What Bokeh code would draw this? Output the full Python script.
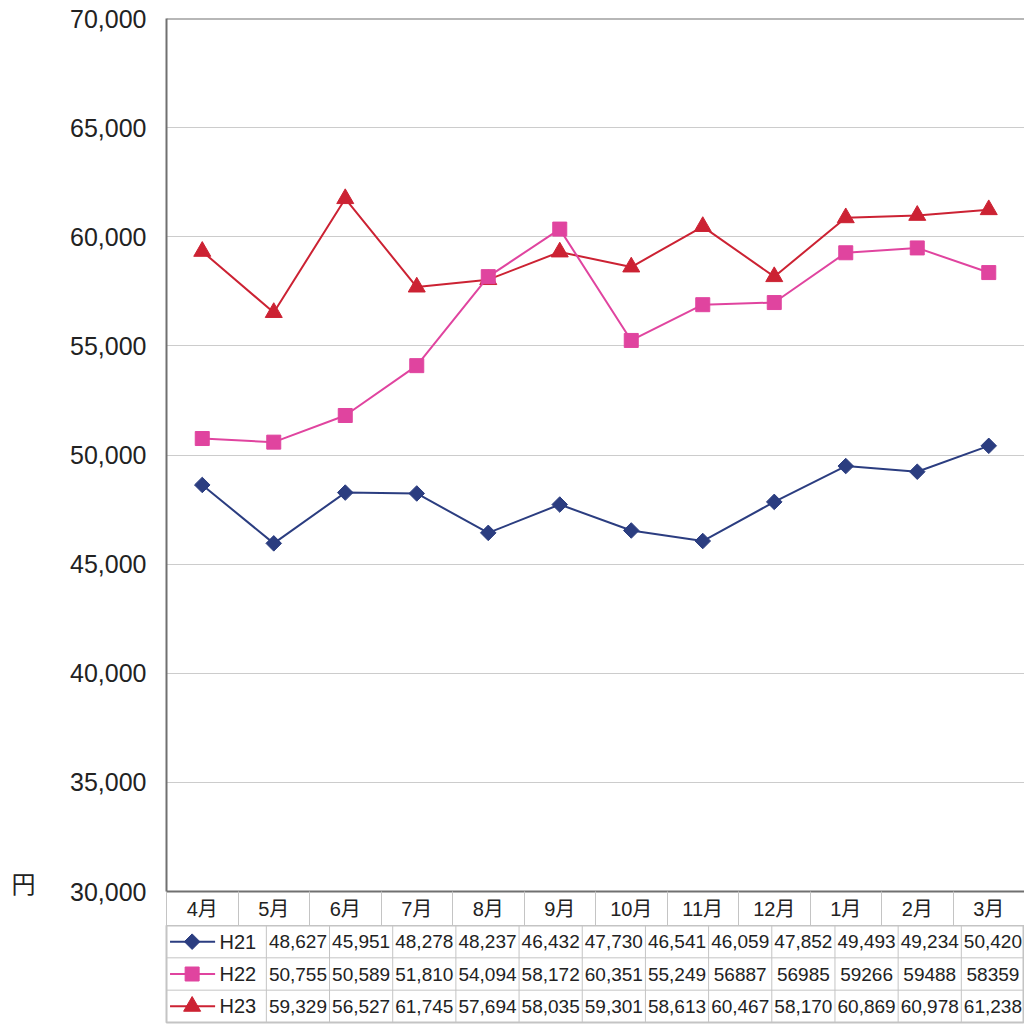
from bokeh.plotting import figure
from bokeh.models import Range1d, FixedTicker, NumeralTickFormatter, Span, LinearAxis
from bokeh.layouts import column
from bokeh.embed import file_html
from bokeh.resources import INLINE
from bokeh.core.properties import value

# ---- data ----
months = ["4月", "5月", "6月", "7月", "8月", "9月", "10月", "11月", "12月", "1月", "2月", "3月"]
series_names = ["H21", "H22", "H23"]
h21 = [48627, 45951, 48278, 48237, 46432, 47730, 46541, 46059, 47852, 49493, 49234, 50420]
h22 = [50755, 50589, 51810, 54094, 58172, 60351, 55249, 56887, 56985, 59266, 59488, 58359]
h23 = [59329, 56527, 61745, 57694, 58035, 59301, 58613, 60467, 58170, 60869, 60978, 61238]
h21_text = ["48,627", "45,951", "48,278", "48,237", "46,432", "47,730", "46,541", "46,059", "47,852", "49,493", "49,234", "50,420"]
h22_text = ["50,755", "50,589", "51,810", "54,094", "58,172", "60,351", "55,249", "56887", "56985", "59266", "59488", "58359"]
h23_text = ["59,329", "56,527", "61,745", "57,694", "58,035", "59,301", "58,613", "60,467", "58,170", "60,869", "60,978", "61,238"]
y_ticks = [30000, 35000, 40000, 45000, 50000, 55000, 60000, 65000, 70000]
unit_label = "円"

# ---- styles ----
NAVY = "#2b3d80"
PINK = "#e0449f"
RED = "#cc2233"
FRAME = "#707070"
GRID = "#cccccc"
CELL = "#c4c4c4"
TXT = "#222222"
FONT = "'Liberation Sans', 'Noto Sans CJK JP'"

W = 1024
LEFT = 166
TOP = 18
FRAME_H = 873
HEAD_H = 34
plot_w = W - LEFT
colw = plot_w / 12.0

xs = [i + 0.5 for i in range(len(months))]

p = figure(width=W, height=TOP + FRAME_H + HEAD_H, x_range=Range1d(0, 12), y_range=Range1d(30000, 70000),
           output_backend="svg", toolbar_location=None,
           min_border_left=LEFT, min_border_right=0, min_border_top=TOP, min_border_bottom=HEAD_H)
p.outline_line_color = None
p.background_fill_color = "white"
p.border_fill_color = "white"

# y axis
yt = FixedTicker(ticks=y_ticks)
p.yaxis.ticker = yt
p.yaxis.formatter = NumeralTickFormatter(format="0,0")
p.yaxis.major_tick_out = 0
p.yaxis.major_tick_in = 0
p.yaxis.minor_tick_out = 0
p.yaxis.minor_tick_in = 0
p.yaxis.axis_line_color = FRAME
p.yaxis.axis_line_width = 2
p.yaxis.major_label_standoff = 20
p.yaxis.major_label_text_font = FONT
p.yaxis.major_label_text_font_size = "25px"
p.yaxis.major_label_text_color = TXT

# unit "円" shown as an outer left axis label, just above the 30,000 level
unit_pos = 30000 + round(8 * 40000 / FRAME_H, -2)
ua = LinearAxis(ticker=FixedTicker(ticks=[unit_pos]), major_label_overrides={unit_pos: unit_label})
ua.axis_line_color = None
ua.major_tick_line_color = None
ua.minor_tick_line_color = None
ua.major_tick_out = 0
ua.major_tick_in = 0
ua.major_label_standoff = 32
ua.major_label_text_font = "Noto Sans CJK JP"
ua.major_label_text_font_size = "24px"
ua.major_label_text_color = TXT
p.add_layout(ua, "left")

# x axis (table header row)
xt = FixedTicker(ticks=xs, minor_ticks=list(range(13)))
p.xaxis.ticker = xt
p.xaxis.major_label_overrides = {x: m for x, m in zip(xs, months)}
p.xaxis.major_tick_out = 0
p.xaxis.major_tick_in = 0
p.xaxis.minor_tick_out = HEAD_H
p.xaxis.minor_tick_in = 0
p.xaxis.minor_tick_line_color = CELL
p.xaxis.minor_tick_line_width = 1
p.xaxis.axis_line_color = FRAME
p.xaxis.axis_line_width = 2
p.xaxis.major_label_standoff = 6 - HEAD_H
p.xaxis.major_label_text_font = FONT
p.xaxis.major_label_text_font_size = "20px"
p.xaxis.major_label_text_color = TXT

p.xgrid.visible = False
p.ygrid.ticker = yt
p.ygrid.grid_line_color = GRID
p.ygrid.grid_line_width = 1

p.add_layout(Span(location=70000, dimension="width", line_color=FRAME, line_width=2))

# series
p.line(xs, h23, line_color=RED, line_width=2)
p.scatter(xs, h23, marker="triangle", size=17, fill_color=RED, line_color=RED)
p.line(xs, h22, line_color=PINK, line_width=2)
p.scatter(xs, h22, marker="square", size=14, fill_color=PINK, line_color=PINK)
p.line(xs, h21, line_color=NAVY, line_width=2)
p.scatter(xs, h21, marker="square", angle=0.785398, size=11, fill_color=NAVY, line_color=NAVY)

# ---- data table below ----
TL = 53
x0 = -(LEFT - TL) / colw
t = figure(width=W, height=100, x_range=Range1d(x0, 12), y_range=Range1d(0, 3),
           x_axis_location=None, y_axis_location=None,
           output_backend="svg", toolbar_location=None,
           min_border_left=TL, min_border_right=0, min_border_top=0, min_border_bottom=3)
t.grid.visible = False
t.outline_line_color = CELL
t.outline_line_width = 2
t.border_fill_color = "white"

# cell lines
t.segment(x0=list(range(12)), y0=[0] * 12, x1=list(range(12)), y1=[3] * 12, line_color=CELL, line_width=1)
t.segment(x0=[x0, x0], y0=[1, 2], x1=[12, 12], y1=[1, 2], line_color=CELL, line_width=1)

rows_y = [2.5, 1.5, 0.5]
colors = [NAVY, PINK, RED]
texts = [h21_text, h22_text, h23_text]
markers = [("square", 0.785398, 11), ("square", 0.0, 14), ("triangle", 0.0, 17)]
lx0 = (57 - LEFT) / colw
lx1 = (108 - LEFT) / colw
mx = (82 - LEFT) / colw
tx = (113 - LEFT) / colw
for name, ry, col, txt, (mk, ang, sz) in zip(series_names, rows_y, colors, texts, markers):
    t.line([lx0, lx1], [ry, ry], line_color=col, line_width=2)
    t.scatter([mx], [ry], marker=mk, angle=ang, size=sz, fill_color=col, line_color=col)
    t.text([tx], [ry], text=[name], text_align="left", text_baseline="middle",
           text_font=value(FONT), text_font_size="20px", text_color=TXT)
    t.text(xs, [ry] * len(xs), text=txt, text_align="center", text_baseline="middle",
           text_font=value(FONT), text_font_size="19px", text_color=TXT)

layout = column(p, t, spacing=0)
open("out.html", "w").write(file_html(layout, INLINE))
